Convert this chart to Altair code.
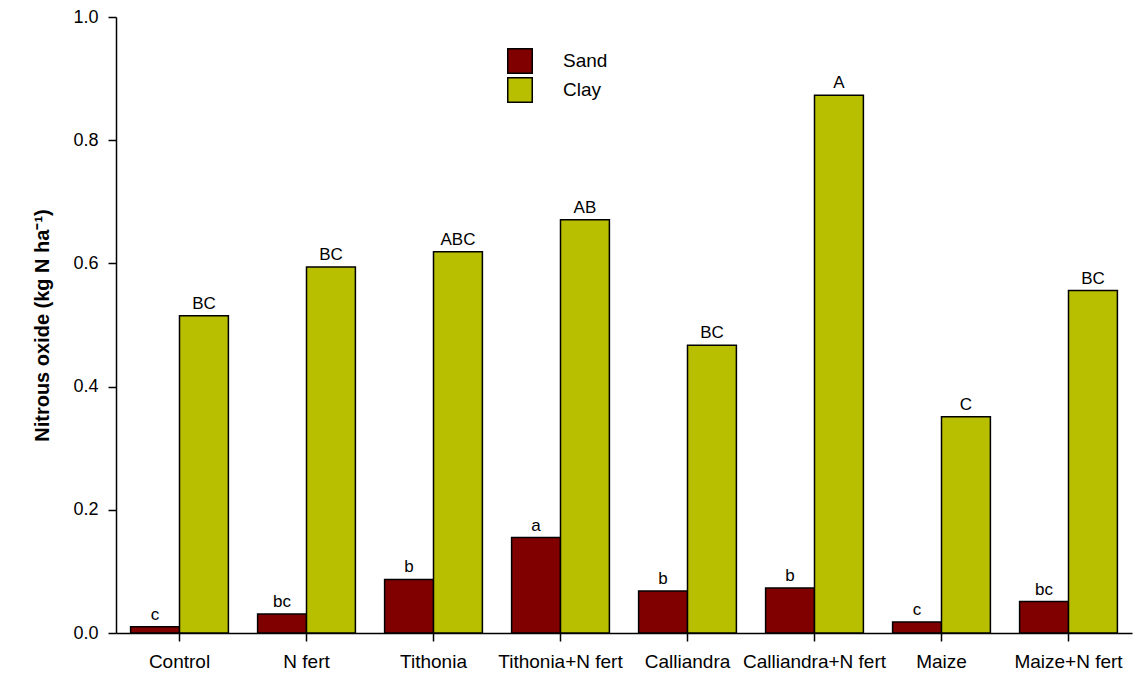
import altair as alt
import pandas as pd

categories = ["Control", "N fert", "Tithonia", "Tithonia+N fert", "Calliandra",
              "Calliandra+N fert", "Maize", "Maize+N fert"]
sand = [0.010, 0.031, 0.087, 0.155, 0.068, 0.073, 0.018, 0.051]
clay = [0.515, 0.594, 0.619, 0.671, 0.467, 0.873, 0.351, 0.556]
sand_letters = ["c", "bc", "b", "a", "b", "b", "c", "bc"]
clay_letters = ["BC", "BC", "ABC", "AB", "BC", "A", "C", "BC"]
soils = ["Sand", "Clay"]
colors = ["#800000", "#b8be00"]

rows = []
for i, c in enumerate(categories):
    rows.append({"cat": c, "soil": "Sand", "val": sand[i], "lab": sand_letters[i]})
    rows.append({"cat": c, "soil": "Clay", "val": clay[i], "lab": clay_letters[i]})
df = pd.DataFrame(rows)

FONT = "Liberation Sans"

x = alt.X("cat:N", sort=categories, title=None,
          scale=alt.Scale(paddingInner=0.23, paddingOuter=0.115),
          axis=alt.Axis(labelAngle=0, labelFontSize=19, labelFont=FONT, labelColor="black",
                        domainColor="black", tickColor="black", tickSize=8,
                        labelPadding=11, domainWidth=1.5, tickWidth=1.5))
y = alt.Y("val:Q", title="Nitrous oxide (kg N ha⁻¹)",
          scale=alt.Scale(domain=[0, 1], nice=False),
          axis=alt.Axis(values=[0, 0.2, 0.4, 0.6, 0.8, 1.0], format=".1f", grid=False,
                        labelFontSize=18, labelFont=FONT, labelColor="black",
                        titleFontSize=20, titleFont=FONT, titleFontWeight="bold",
                        titleColor="black", titlePadding=20,
                        domainColor="black", tickColor="black", tickSize=8,
                        labelPadding=10, domainWidth=1.5, tickWidth=1.5))
xoff = alt.XOffset("soil:N", sort=soils)

bars = alt.Chart(df).mark_bar(stroke="black", strokeWidth=1.5).encode(
    x=x, y=y, xOffset=xoff,
    color=alt.Color("soil:N", sort=soils, title=None,
                    scale=alt.Scale(domain=soils, range=colors),
                    legend=alt.Legend(orient="none", legendX=391, legendY=31,
                                      symbolType="square", symbolSize=600,
                                      symbolStrokeColor="black", symbolStrokeWidth=1.5,
                                      symbolOpacity=1,
                                      labelFontSize=19, labelFont=FONT, labelColor="black",
                                      labelOffset=30, rowPadding=-4)),
)

text = alt.Chart(df).mark_text(baseline="bottom", dy=-3, fontSize=17, font=FONT,
                               color="black").encode(
    x=x, y=y, xOffset=xoff, text="lab:N"
)

chart = (bars + text).properties(
    width=1016, height=616,
    padding={"left": 108, "top": 9, "right": 5, "bottom": 38},
    autosize=alt.AutoSizeParams(type="none"),
).configure_view(stroke=None).configure_scale(offsetBandPaddingInner=0)

chart.save("out.html", embed_options={"renderer": "svg", "actions": False})
